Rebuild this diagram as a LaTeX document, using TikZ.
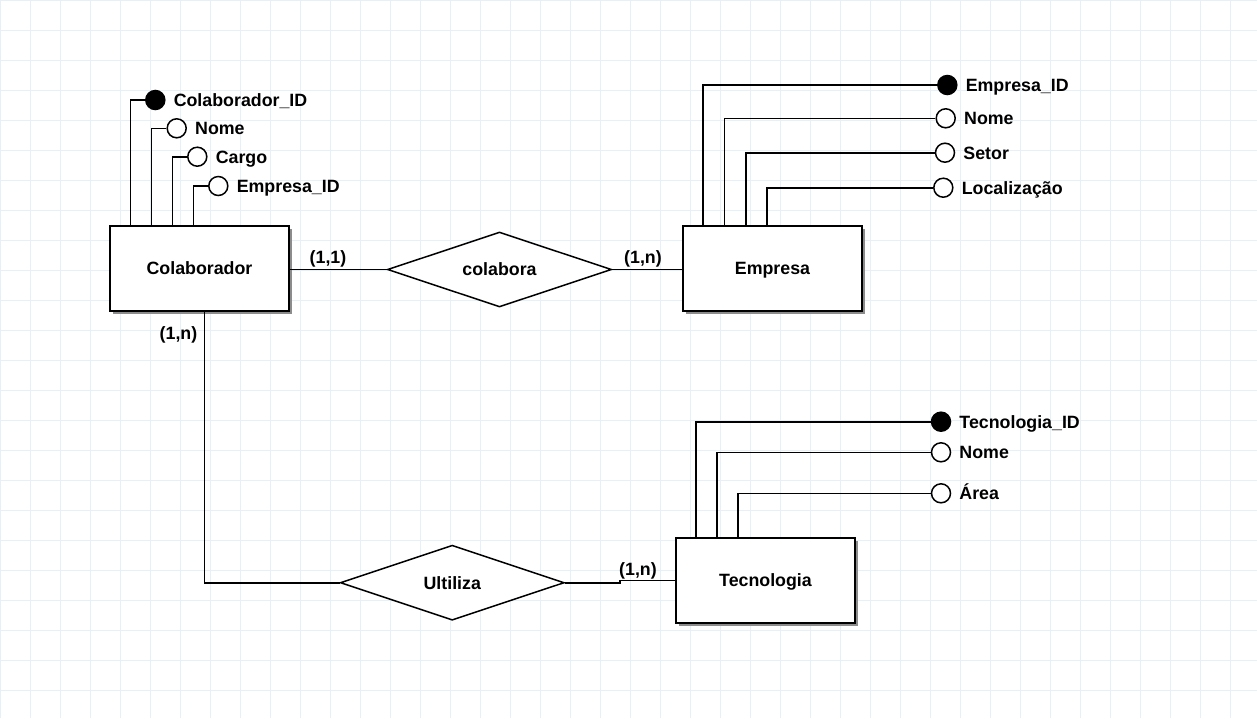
\documentclass[tikz,border=0pt]{standalone}
\usepackage{fontspec}
\setmainfont{Liberation Sans}
\usetikzlibrary{shadows,shapes.geometric,calc}
\definecolor{gridcol}{RGB}{233,239,243}
\begin{document}
\begin{tikzpicture}[x=1pt,y=-1pt,
  every node/.style={font=\fontsize{17.8pt}{21pt}\selectfont\bfseries,
    text height=12.7pt, text depth=0pt},
  entity/.style={draw, line width=1.7pt, fill=white, minimum width=179pt,
    minimum height=85pt, inner sep=0pt,
    drop shadow={shadow xshift=3pt, shadow yshift=-3pt, fill=black!45, opacity=1}},
  rel/.style={diamond, aspect=3, draw, line width=1.5pt, fill=white, minimum width=224pt,
    minimum height=75pt, inner sep=0pt},
  attr/.style={circle, draw, line width=1.5pt, fill=white, minimum size=19pt, inner sep=0pt,
    text height=, text depth=},
  keyattr/.style={attr, fill=black},
  alabel/.style={anchor=west, inner sep=0pt},
  card/.style={inner sep=0pt},
  conn/.style={line width=1.6pt}]

% canvas and grid
\fill[white] (0,0) rectangle (1257,718);
\useasboundingbox (0,0) rectangle (1257,718);
\foreach \gx in {0,30,...,1250} \draw[gridcol, line width=0.9pt] (\gx,0) -- (\gx,718);
\foreach \gy in {0,30,...,710} \draw[gridcol, line width=0.9pt] (0,\gy) -- (1257,\gy);

% entities
\node[entity] (col) at (199.5,268.5) {Colaborador};
\node[entity] (emp) at (772.5,268.5) {Empresa};
\node[entity] (tec) at (765.5,580.5) {Tecnologia};

% relationships
\node[rel] (colab) at (499.5,269.5) {colabora};
\node[rel] (util) at (452.3,582.7) {Ultiliza};

% relationship connectors
\draw[conn] (colab.west -| col.east) -- (colab.west);
\draw[conn] (colab.east) -- (colab.east -| emp.west);
\draw[conn] ([xshift=5pt]col.south) |- (util.west);
\coordinate (jog) at (620,582.7);
\draw[conn] (util.east) -- (jog) |- (tec.west);

% cardinalities
\node[card] (c1) at (328,257) {(1,1)};
\node[card] (c2) at (643,257) {(1,n)};
\node[card] (c3) at (178.5,333) {(1,n)};
\node[card] (c4) at (638,569) {(1,n)};

% Colaborador attributes
\node[keyattr] (colid) at (155.3,100) {};
\node[attr] (colnome) at (176.7,128.3) {};
\node[attr] (colcargo) at (197.3,156.7) {};
\node[attr] (colemp) at (218.3,186) {};
\node[alabel] (lcolid) at ([xshift=8pt]colid.east) {Colaborador\_ID};
\node[alabel] (lcolnome) at ([xshift=8pt]colnome.east) {Nome};
\node[alabel] (lcolcargo) at ([xshift=8pt]colcargo.east) {Cargo};
\node[alabel] (lcolemp) at ([xshift=8pt]colemp.east) {Empresa\_ID};
\draw[conn] ([xshift=21.5pt]col.north west) |- (colid.west);
\draw[conn] ([xshift=42.5pt]col.north west) |- (colnome.west);
\draw[conn] ([xshift=63.5pt]col.north west) |- (colcargo.west);
\draw[conn] ([xshift=84.5pt]col.north west) |- (colemp.west);

% Empresa attributes
\node[keyattr] (empid) at (947.3,85) {};
\node[attr] (empnome) at (945.7,118.3) {};
\node[attr] (empsetor) at (945,152.7) {};
\node[attr] (emploc) at (943.3,187.7) {};
\node[alabel] (lempid) at ([xshift=8pt]empid.east) {Empresa\_ID};
\node[alabel] (lempnome) at ([xshift=8pt]empnome.east) {Nome};
\node[alabel] (lempsetor) at ([xshift=8pt]empsetor.east) {Setor};
\node[alabel] (lemploc) at ([xshift=8pt]emploc.east) {Localização};
\draw[conn] ([xshift=21pt]emp.north west) |- (empid.west);
\draw[conn] ([xshift=42.5pt]emp.north west) |- (empnome.west);
\draw[conn] ([xshift=63.7pt]emp.north west) |- (empsetor.west);
\draw[conn] ([xshift=84.7pt]emp.north west) |- (emploc.west);

% Tecnologia attributes
\node[keyattr] (tecid) at (941,421.7) {};
\node[attr] (tecnome) at (941,452.3) {};
\node[attr] (tecarea) at (941,493.3) {};
\node[alabel] (ltecid) at ([xshift=8pt]tecid.east) {Tecnologia\_ID};
\node[alabel] (ltecnome) at ([xshift=8pt]tecnome.east) {Nome};
\node[alabel] (ltecarea) at ([xshift=8pt]tecarea.east) {Área};
\draw[conn] ([xshift=20.7pt]tec.north west) |- (tecid.west);
\draw[conn] ([xshift=41.7pt]tec.north west) |- (tecnome.west);
\draw[conn] ([xshift=62.7pt]tec.north west) |- (tecarea.west);
\end{tikzpicture}
\end{document}
